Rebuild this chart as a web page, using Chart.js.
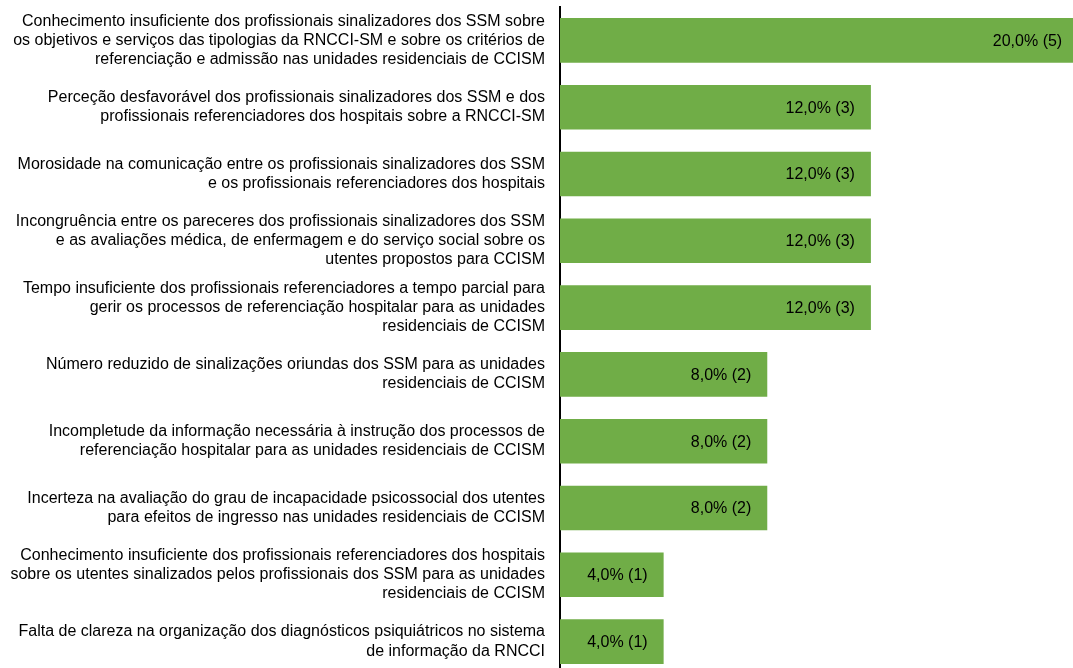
<!DOCTYPE html>
<html>
<head>
<meta charset="utf-8">
<script src="https://cdn.jsdelivr.net/npm/chart.js@4.4.1/dist/chart.umd.min.js"></script>
<style>
  html, body { margin: 0; padding: 0; background: #ffffff; overflow: hidden; }
  #wrap { width: 1073px; height: 668px; overflow: hidden; }
  canvas { display: block; }
</style>
</head>
<body>
<div id="wrap"><canvas id="chart" width="1073" height="675"></canvas></div>
<script>
const categories = [
  ["Conhecimento insuficiente dos profissionais sinalizadores dos SSM sobre", "os objetivos e serviços das tipologias da RNCCI-SM e sobre os critérios de", "referenciação e admissão nas unidades residenciais de CCISM"],
  ["Perceção desfavorável dos profissionais sinalizadores dos SSM e dos", "profissionais referenciadores dos hospitais sobre a RNCCI-SM"],
  ["Morosidade na comunicação entre os profissionais sinalizadores dos SSM", "e os profissionais referenciadores dos hospitais"],
  ["Incongruência entre os pareceres dos profissionais sinalizadores dos SSM", "e as avaliações médica, de enfermagem e do serviço social sobre os", "utentes propostos para CCISM"],
  ["Tempo insuficiente dos profissionais referenciadores a tempo parcial para", "gerir os processos de referenciação hospitalar para as unidades", "residenciais de CCISM"],
  ["Número reduzido de sinalizações oriundas dos SSM para as unidades", "residenciais de CCISM"],
  ["Incompletude da informação necessária à instrução dos processos de", "referenciação hospitalar para as unidades residenciais de CCISM"],
  ["Incerteza na avaliação do grau de incapacidade psicossocial dos utentes", "para efeitos de ingresso nas unidades residenciais de CCISM"],
  ["Conhecimento insuficiente dos profissionais referenciadores dos hospitais", "sobre os utentes sinalizados pelos profissionais dos SSM para as unidades", "residenciais de CCISM"],
  ["Falta de clareza na organização dos diagnósticos psiquiátricos no sistema", "de informação da RNCCI"]
];
const percentages = [20, 12, 12, 12, 12, 8, 8, 8, 4, 4];
const counts = [5, 3, 3, 3, 3, 2, 2, 2, 1, 1];

const FONT = "'Liberation Sans', Arial, sans-serif";

const valueLabels = {
  id: 'valueLabels',
  afterDatasetsDraw(chart) {
    const ctx = chart.ctx;
    const meta = chart.getDatasetMeta(0);
    ctx.save();
    ctx.font = "16px " + FONT;
    ctx.fillStyle = "#000000";
    ctx.textAlign = "right";
    ctx.textBaseline = "middle";
    meta.data.forEach((bar, i) => {
      const txt = percentages[i].toFixed(1).replace('.', ',') + "% (" + counts[i] + ")";
      ctx.fillText(txt, bar.x - 16, bar.y + 1);
    });
    ctx.restore();
  }
};

new Chart(document.getElementById('chart'), {
  type: 'bar',
  data: {
    labels: categories,
    datasets: [{
      data: percentages,
      backgroundColor: '#70AD47',
      borderWidth: 0,
      categoryPercentage: 1.0,
      barPercentage: 0.667
    }]
  },
  options: {
    indexAxis: 'y',
    responsive: false,
    animation: false,
    devicePixelRatio: 1,
    layout: { padding: { top: 7, right: 0, bottom: 0, left: 0 } },
    plugins: {
      legend: { display: false },
      tooltip: { enabled: false },
      title: { display: false }
    },
    scales: {
      x: {
        display: false,
        min: 0,
        max: 19.8
      },
      y: {
        grid: { display: false, drawTicks: false },
        border: { display: true, color: '#000000', width: 2 },
        ticks: {
          color: '#000000',
          padding: 15,
          autoSkip: false,
          font: { family: FONT, size: 16, lineHeight: 1.19 }
        },
        afterFit(scale) {
          scale.width = 560;
          scale.paddingTop = 0;
          scale.paddingBottom = 0;
        }
      }
    }
  },
  plugins: [valueLabels]
});
</script>
</body>
</html>
